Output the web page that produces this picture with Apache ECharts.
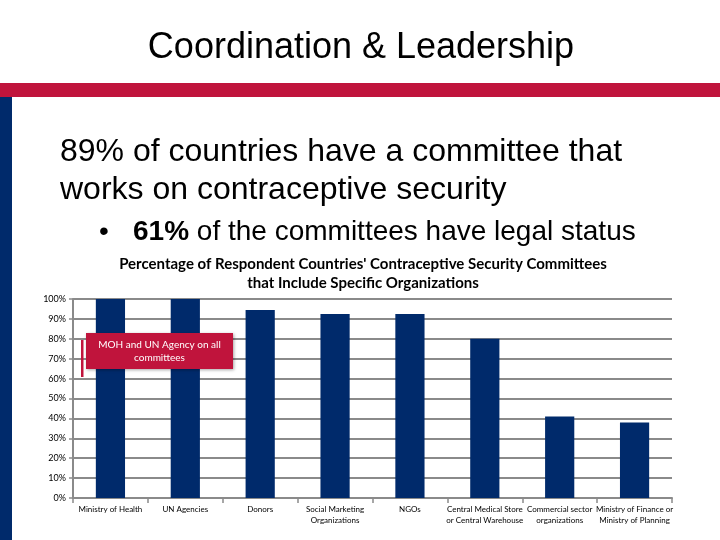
<!DOCTYPE html>
<html>
<head>
<meta charset="utf-8">
<script src="https://cdn.jsdelivr.net/npm/echarts@6/dist/echarts.min.js"></script>
<style>html,body{margin:0;padding:0;background:#fff}#c{width:720px;height:540px}</style>
</head>
<body>
<div id="c"></div>
<script>
const categories = ['Ministry of Health', 'UN Agencies', 'Donors', 'Social Marketing\nOrganizations', 'NGOs', 'Central Medical Store\nor Central Warehouse', 'Commercial sector\norganizations', 'Ministry of Finance or\nMinistry of Planning'];
const values = [100, 100, 94.5, 92.5, 92.5, 80, 41, 38];
const yTicks = [0, 10, 20, 30, 40, 50, 60, 70, 80, 90, 100];

const RED = '#C0143C';
const NAVY = '#002A6B';
const chart = echarts.init(document.getElementById('c'));
chart.setOption({
  animation: false,
  backgroundColor: '#fff',
  title: [
    { text: 'Coordination & Leadership', left: 356, textAlign: 'center', top: 25, textStyle: { fontFamily: 'Liberation Sans', fontSize: 36, fontWeight: 'normal', color: '#000' } },
    { text: 'Percentage of Respondent Countries\' Contraceptive Security Committees\nthat Include Specific Organizations', left: 358, textAlign: 'center', top: 250, textStyle: { fontFamily: 'Lato', fontSize: 15, fontWeight: 'bold', color: '#000', lineHeight: 19 } }
  ],
  grid: { left: 73, right: 48, top: 299, bottom: 42 },
  xAxis: {
    type: 'category', data: categories,
    axisLine: { lineStyle: { color: '#8a8a8a', width: 2 } },
    axisTick: { show: true, length: 5, lineStyle: { color: '#8a8a8a', width: 1.5 } },
    axisLabel: { interval: 0, fontFamily: 'Lato', fontSize: 8, color: '#000', lineHeight: 11, margin: 6 }
  },
  yAxis: {
    type: 'value', min: 0, max: 100, interval: 10,
    axisLine: { show: true, lineStyle: { color: '#8a8a8a', width: 2 } },
    axisTick: { show: true, length: 4, lineStyle: { color: '#8a8a8a', width: 1.5 } },
    splitLine: { lineStyle: { color: '#8a8a8a', width: 2 } },
    axisLabel: { formatter: v => yTicks.includes(v) ? v + '%' : '', fontFamily: 'Lato', fontSize: 9, color: '#000', margin: 7 }
  },
  series: [{
    type: 'bar', data: values, barWidth: '39%',
    itemStyle: { color: NAVY }
  }],
  graphic: [
    { type: 'rect', shape: { x: 0, y: 83, width: 720, height: 14 }, style: { fill: RED }, z: 10 },
    { type: 'rect', shape: { x: 0, y: 97, width: 12, height: 443 }, style: { fill: NAVY }, z: 10 },
    { type: 'text', left: 60, top: 133, style: { text: '89% of countries have a committee that\nworks on contraceptive security', font: '32px "Liberation Sans"', fill: '#000', lineHeight: 38 }, z: 10 },
    { type: 'text', left: 99, top: 218, style: { text: '•', font: '28px "Liberation Sans"', fill: '#000' }, z: 10 },
    { type: 'text', left: 133, top: 218, style: { rich: { b: { font: 'bold 28px "Liberation Sans"', fill: '#000' }, n: { font: '28px "Liberation Sans"', fill: '#000' } }, text: '{b|61%}{n| of the committees have legal status}' }, z: 10 },
    { type: 'rect', shape: { x: 81, y: 340, width: 2.5, height: 37 }, style: { fill: RED }, z: 20 },
    { type: 'rect', shape: { x: 86, y: 333, width: 147, height: 36 }, style: { fill: RED, shadowBlur: 3, shadowColor: 'rgba(0,0,0,0.35)', shadowOffsetX: 1, shadowOffsetY: 1 }, z: 20 },
    { type: 'text', x: 159.5, y: 351, style: { text: 'MOH and UN Agency on all\ncommittees', font: '10px Lato', fill: '#fff', align: 'center', verticalAlign: 'middle', lineHeight: 13 }, z: 21 }
  ]
});
</script>
</body>
</html>
